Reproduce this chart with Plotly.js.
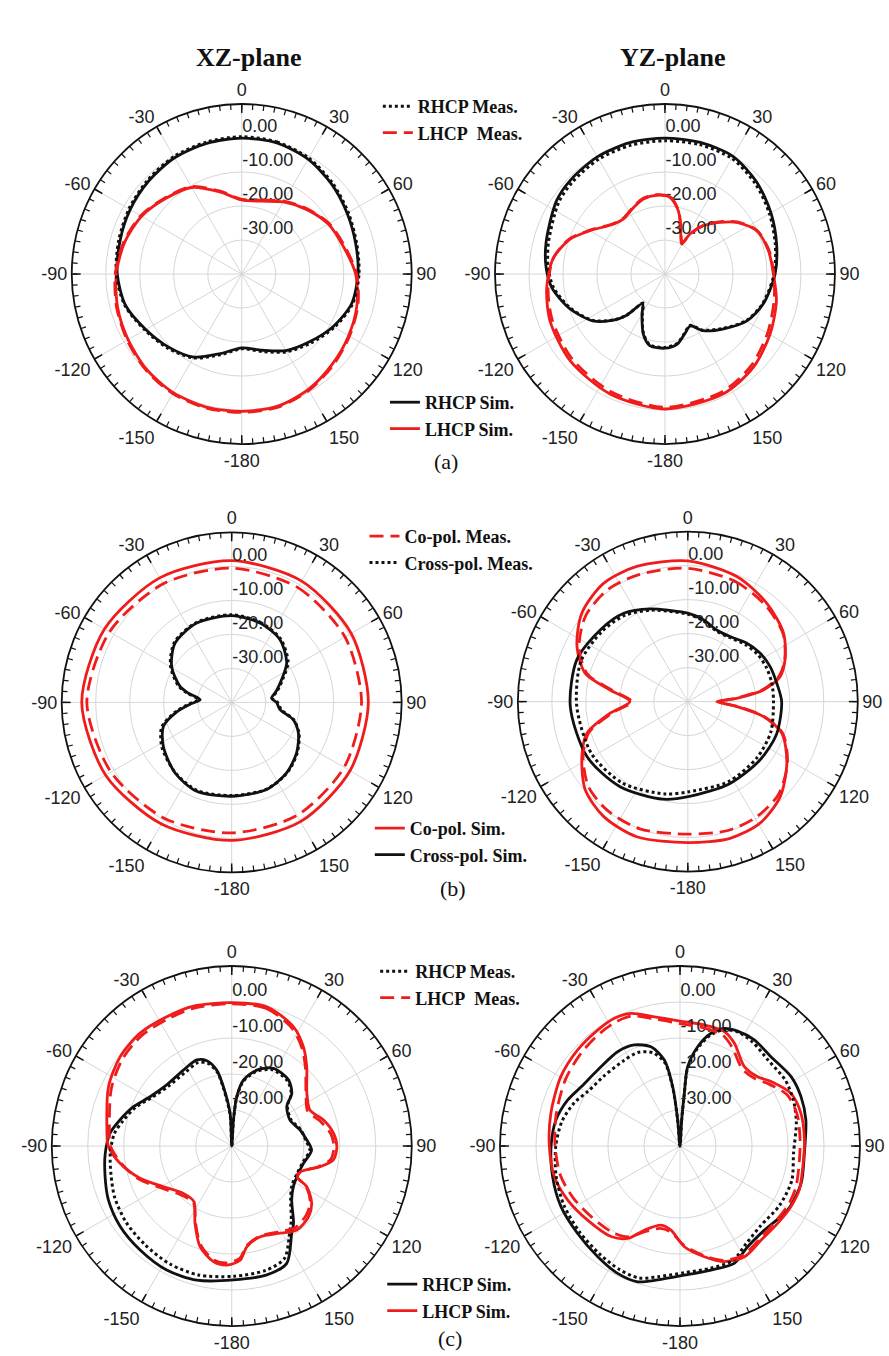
<!DOCTYPE html>
<html><head><meta charset="utf-8">
<script src="https://cdn.plot.ly/plotly-3.0.1.min.js"></script>
<style>html,body{margin:0;padding:0;background:#fff;}#chart{width:889px;height:1356px;}</style>
</head><body><div id="chart"></div>
<script>
const ANG_TICKS = [0,30,60,90,120,150,180,210,240,270,300,330];
const ANG_LABELS = ['0','30','60','90','120','150','-180','-150','-120','-90','-60','-30'];
const RAD_TICKS = [-30,-20,-10,0];
const RAD_LABELS = ['-30.00','-20.00','-10.00','0.00'];

const A_XZ_T = [0,15,30,45,60,75,90,105,120,135,150,165,180,-165,-150,-135,-120,-105,-90,-75,-60,-45,-30,-15,0];
const A_XZ_RHCP_SIM = [0,-0.1,-1,-2.6,-4.2,-5.3,-5.8,-6.5,-9,-11.8,-14,-16.8,-18.3,-15.8,-11.8,-9.6,-7.4,-4.6,-3.4,-2.9,-2.1,-1.3,-0.5,-0.2,0];
const A_XZ_RHCP_MEAS = [0.4,0.2,-0.6,-2.2,-3.8,-5,-5.5,-6.2,-8.6,-11.3,-13.6,-16.4,-18,-15.4,-11.5,-9.2,-7.1,-4.4,-3.1,-2.5,-1.7,-0.9,-0.1,0.2,0.4];
const A_XZ_LHCP_SIM = [-18.2,-17.8,-15.5,-13.1,-10.6,-9,-6.5,-4.9,-3.7,-2.4,-0.8,0.3,0.4,0.5,0.3,-0.4,-1.4,-2.2,-3.1,-4.3,-6,-8.5,-10.6,-15,-18.2];
const A_XZ_LHCP_MEAS = [-18,-17.5,-15.2,-12.8,-10.3,-8.6,-6.2,-4.6,-3.4,-2,-0.5,0.6,0.7,0.8,0.6,-0.1,-1.1,-1.9,-2.8,-4,-5.7,-8.2,-10.3,-14.7,-18];

const A_YZ_RHCP_T = [0,15,30,45,60,75,90,107,120,133,146,154,162,170,180,-168,-160,-150,-143,-137,-132,-123,-110,-97,-87,-75,-56,-45,-30,-15,0];
const A_YZ_RHCP_SIM = [0,0.1,0,-1.8,-4,-6,-7.6,-9.8,-12.3,-16.4,-19.9,-23,-21.4,-19.1,-18.2,-18.5,-21.3,-26.5,-29.1,-23.3,-19.7,-14.7,-10.2,-6.5,-5,-3.8,-1.5,-0.8,-0.2,0,0];
const A_YZ_RHCP_MEAS = [-0.8,-0.6,-0.7,-2.4,-4.5,-6.4,-7.9,-10,-12.5,-16.6,-20.1,-23.2,-21.6,-19.3,-18.4,-18.7,-21.5,-26.7,-29.3,-23.5,-19.9,-14.9,-10.5,-7,-5.6,-4.5,-2.3,-1.6,-1,-0.8,-0.8];
const A_YZ_LHCP_T = [-6,3.7,11.9,18.6,29,32,38.4,46.8,54.2,64.7,77.3,90,103.4,119.7,136.6,154,180,-155.4,-132.4,-112,-96.4,-82,-70,-60,-46,-37,-25,-16,-6];
const A_YZ_LHCP_SIM = [-16.7,-17.4,-21,-25.5,-29.9,-26.1,-21.9,-17.8,-14,-10.2,-8.8,-8.1,-6.3,-4.4,-2.2,-0.8,-0.3,-1.2,-2.2,-3.5,-5,-6.8,-10.2,-14.5,-18.9,-19.7,-18.3,-17,-16.7];
const A_YZ_LHCP_MEAS = [-16.5,-17.2,-20.8,-25.3,-29.5,-26,-21.7,-17.5,-13.8,-10,-8.6,-8,-7,-5.2,-3,-1.5,-0.8,-1.9,-3,-4.2,-5.4,-6.8,-10,-14.3,-18.7,-19.5,-18.1,-16.8,-16.5];

const B_XZ_CO_T = [0,30,60,90,120,150,180,-150,-120,-90,-60,-30,0];
const B_XZ_CO_SIM = [1.7,1.2,0.6,0.2,0.2,0.5,0.6,1.3,2.8,4.1,3.2,2.3,1.7];
const B_XZ_CO_MEAS = [-0.5,-1,-1.5,-1.8,-1.8,-1.6,-1.6,-0.6,1,2.6,1.5,0.3,-0.5];
const B_XZ_X_T = [0,19.7,37.6,54.4,65.6,76,84,90,98.6,105.7,114.7,127.9,142.1,158.2,180,-158.5,-141.3,-122.8,-109.4,-100,-92,-85,-78,-72.8,-59,-43.7,-23.8,0];
const B_XZ_X_SIM = [-14.5,-15.2,-16.7,-20.1,-23.9,-26.5,-28.2,-26.8,-25.6,-21.2,-18.4,-15.8,-13.7,-12.4,-12.4,-11.9,-13.4,-16.1,-18.7,-23.5,-28,-30.7,-27,-24.1,-19.4,-15.9,-14.5,-14.5];
const B_XZ_X_MEAS = [-14.2,-15,-16.4,-19.6,-23.5,-26.2,-28,-26.5,-25.2,-21,-18.2,-15.6,-13.6,-12.5,-12.6,-12.2,-13.5,-15.6,-18.2,-23,-27.5,-30.2,-26.5,-23.6,-19,-15.6,-14.3,-14.2];

const B_YZ_CO_T = [0,21.4,38.8,54.5,66.8,74.9,81.2,86.1,90,95.8,101.2,108.6,121.9,135.8,149.3,162.8,180,-159.3,-143.7,-130.7,-117.4,-107.4,-98.5,-90,-81.5,-74.6,-63.6,-50.2,-35.5,-20.7,0];
const B_YZ_CO_SIM = [1.4,-0.5,-2.9,-5.4,-8.9,-11.9,-17.5,-25.6,-31.5,-25.5,-17.3,-10.8,-5.7,-1,1.6,2.1,1.5,2.5,1.9,-0.2,-4.9,-8.9,-16.9,-23,-16.9,-8.7,-3.6,0.6,2.7,2.5,1.4];
const B_YZ_CO_MEAS = [-0.8,-2,-3.6,-5.6,-9,-12.4,-18,-26,-31,-25,-17,-10.5,-5.5,-1.8,-0.5,-0.3,-1,0,-0.2,-1.5,-5.3,-9.5,-17.5,-23.5,-17.5,-9.3,-4.3,-0.8,0.5,0,-0.8];
const B_YZ_X_T = [0,11,22,33,45,56,67,78,90,110,129,153,179,-166,-141.5,-118.6,-92.4,-69.4,-50.7,-36,-22,-11,0];
const B_YZ_X_SIM = [-14,-15.5,-17.3,-17.2,-15.6,-14.4,-13.7,-13.3,-12.4,-12.2,-12.7,-12.9,-12.1,-10.4,-8,-6.2,-5.4,-5.1,-6.7,-7.9,-10.6,-12.7,-14];
const B_YZ_X_MEAS = [-14.3,-15.8,-17.6,-17.5,-16.2,-15.2,-14.8,-14.7,-14.8,-14,-13.8,-13.6,-13.5,-12,-9.3,-7.8,-7.3,-6.4,-7.4,-8.6,-11,-13,-14.3];

const C_XZ_RHCP_T = [0,3.7,5.8,10,18.2,28.2,40.6,48.7,54.4,66,76.8,85.4,92.9,103.6,112.3,123.4,132,141.4,145.5,154.9,164.8,179.3,-165.4,-152.3,-138.6,-125.8,-113.6,-103.6,-93.3,-84,-76.9,-68.2,-58.9,-46.8,-32.5,-22.1,-16.3,-11.2,-8,-2.9,0];
const C_XZ_RHCP_SIM = [-40,-32.8,-26.2,-21.4,-17.8,-15.5,-15.8,-17.8,-21.2,-22.3,-20.5,-19.1,-17.8,-19.5,-20,-19.5,-17.6,-12.5,-10.6,-4,-2.9,-2.8,-1.5,-1.1,-1.5,-1.8,-2.6,-3.8,-4.8,-6,-8.1,-10.6,-13.5,-15.2,-15,-14.2,-15.3,-18.5,-23.4,-30.9,-40];
const C_XZ_RHCP_MEAS = [-40,-33,-26.5,-21.8,-18.2,-16,-16.2,-18,-21,-22,-20.3,-19.4,-18.3,-19.8,-20.3,-20,-18,-13.5,-11.5,-5.5,-4.2,-3.8,-3,-3,-3.5,-3.8,-4.5,-5.5,-6.2,-7.2,-9,-11.2,-14,-15.8,-15.8,-15,-16,-19,-24,-31.5,-40];
const C_XZ_LHCP_T = [0,14.1,27.3,35.8,43.4,54.9,65.3,74.2,82.9,90.4,97.8,103.2,110.6,115.3,118.5,125.6,132.7,142.3,151,162.6,171.5,175.8,-177.6,-171,-162.5,-154.6,-145.9,-134.4,-120.8,-109.4,-98.8,-90,-81.2,-64.3,-51.3,-39.1,-26.7,-15.3,0];
const C_XZ_LHCP_SIM = [-0.2,-0.1,-2.7,-6,-9.7,-14.5,-16.1,-13.5,-11.5,-10.8,-11.5,-14.8,-19.7,-20,-16.3,-12.7,-11,-10.5,-12.3,-13.6,-11.7,-8.2,-6.9,-7.5,-10.7,-16.2,-21.3,-21.2,-17.9,-13,-8.6,-5.7,-4.9,-2,-0.3,0.4,0.2,0.3,-0.2];
const C_XZ_LHCP_MEAS = [-0.5,-0.6,-3.3,-6.6,-10.2,-14.8,-16.8,-14.5,-12.3,-11.6,-12.3,-15.2,-19.6,-19.8,-16.5,-13.2,-11.8,-11.3,-12.8,-13.8,-12,-8.8,-7.5,-8,-11.2,-16.5,-21,-20.5,-17.2,-12.5,-8.9,-6.3,-5.6,-2.9,-1.2,-0.4,-0.5,-0.3,-0.5];

const C_YZ_RHCP_T = [0,3.7,4.7,5.5,10.1,15.4,20.6,26.6,35,45.5,58,67.8,78.3,93.4,107.1,120.7,134.9,146.1,155.2,166,178.1,-170.5,-162.7,-153.9,-143.4,-130.5,-117,-103.5,-90,-78.2,-67.7,-59.1,-47.3,-33.5,-24.3,-16.3,-10.3,-7,-5.1,0];
const C_YZ_RHCP_SIM = [-40,-32.8,-25.3,-17.9,-12,-7.5,-5.1,-4.3,-4,-4.6,-3.6,-3.7,-4.3,-5.4,-4.8,-5.2,-6.9,-6.3,-4.1,-4.5,-4.1,-2.3,-0.5,-0.6,-1.7,-2.6,-2.9,-3.6,-4.2,-4.8,-6.3,-8,-8.9,-8.6,-9.2,-11.3,-15.7,-23.4,-32.7,-40];
const C_YZ_RHCP_MEAS = [-40,-33,-25.8,-18.5,-12.5,-8,-5.5,-4.5,-4.8,-5.8,-5.5,-6,-7,-8.4,-7.5,-7.8,-8.5,-7.2,-5,-5,-4.8,-3.2,-1.6,-1.8,-2.6,-3.3,-3.8,-4.6,-5.5,-6.5,-8.3,-10.3,-11.3,-11.6,-11.5,-13,-16.5,-24,-33,-40];
const C_YZ_LHCP_T = [0,11.4,21.2,27.9,39,48.2,54.7,64.6,74.9,87.2,99.6,110.2,118.7,128.4,139.2,149.8,159,167.6,177.5,-173.9,-166.5,-157,-150.5,-142.7,-128.7,-115.7,-103.7,-90,-75.8,-59.8,-46.8,-35.4,-27.2,-20.3,-11.2,0];
const C_YZ_LHCP_SIM = [-5.3,-5.7,-5.9,-7.7,-11.6,-11.1,-9,-5.9,-5.2,-5.4,-5.4,-4.7,-4.9,-5.4,-5.5,-4.4,-5.6,-8.5,-12,-16.5,-17.4,-14.6,-10.5,-8.4,-7.1,-5.4,-4.1,-3.7,-3,-1.7,-1,-0.5,-0.1,-0.7,-3.4,-5.3];
const C_YZ_LHCP_MEAS = [-6,-6.5,-7,-9,-12.5,-12,-10,-7,-6.3,-6.6,-6.5,-5.8,-5.8,-6.2,-6,-5,-6,-8.8,-12.3,-16,-16.5,-14,-11,-9.6,-8.5,-7,-5.8,-5.3,-4.5,-3.2,-2.3,-1.6,-1.2,-1.5,-4,-6];

const RED = '#f01c1c';
const BLACK = '#111111';
const SERIF = 'Liberation Serif, Times New Roman, serif';
const SANS = 'Liberation Sans, Arial, sans-serif';
const simLine = c => ({color: c, width: 2.8, shape: 'spline', smoothing: 0.8});
const dotLine = c => ({color: c, width: 3, dash: 'dot', shape: 'spline', smoothing: 0.8});
const dashLine = c => ({color: c, width: 2.8, dash: '14px,7px', shape: 'spline', smoothing: 0.8});

function tr(theta, r, name, line, sub, legend, show) {
  return {type: 'scatterpolar', mode: 'lines', theta: theta, r: r, name: name, line: line,
          subplot: sub, legend: legend, showlegend: show, hoverinfo: 'skip'};
}

const data = [
  tr(A_XZ_T, A_XZ_RHCP_SIM, 'RHCP Sim.', simLine(BLACK), 'polar', 'legend2', true),
  tr(A_XZ_T, A_XZ_LHCP_SIM, 'LHCP Sim.', simLine(RED), 'polar', 'legend2', true),
  tr(A_XZ_T, A_XZ_RHCP_MEAS, 'RHCP Meas.', dotLine(BLACK), 'polar7', 'legend', true),
  tr(A_XZ_T, A_XZ_LHCP_MEAS, 'LHCP\u00a0 Meas.', dashLine(RED), 'polar7', 'legend', true),
  tr(A_YZ_RHCP_T, A_YZ_RHCP_SIM, 'RHCP Sim.', simLine(BLACK), 'polar2', 'legend2', false),
  tr(A_YZ_LHCP_T, A_YZ_LHCP_SIM, 'LHCP Sim.', simLine(RED), 'polar2', 'legend2', false),
  tr(A_YZ_RHCP_T, A_YZ_RHCP_MEAS, 'RHCP Meas.', dotLine(BLACK), 'polar8', 'legend', false),
  tr(A_YZ_LHCP_T, A_YZ_LHCP_MEAS, 'LHCP Meas.', dashLine(RED), 'polar8', 'legend', false),
  tr(B_XZ_CO_T, B_XZ_CO_SIM, 'Co-pol. Sim.', simLine(RED), 'polar3', 'legend4', true),
  tr(B_XZ_X_T, B_XZ_X_SIM, 'Cross-pol. Sim.', simLine(BLACK), 'polar3', 'legend4', true),
  tr(B_XZ_CO_T, B_XZ_CO_MEAS, 'Co-pol. Meas.', dashLine(RED), 'polar9', 'legend3', true),
  tr(B_XZ_X_T, B_XZ_X_MEAS, 'Cross-pol. Meas.', dotLine(BLACK), 'polar9', 'legend3', true),
  tr(B_YZ_CO_T, B_YZ_CO_SIM, 'Co-pol. Sim.', simLine(RED), 'polar4', 'legend4', false),
  tr(B_YZ_X_T, B_YZ_X_SIM, 'Cross-pol. Sim.', simLine(BLACK), 'polar4', 'legend4', false),
  tr(B_YZ_CO_T, B_YZ_CO_MEAS, 'Co-pol. Meas.', dashLine(RED), 'polar10', 'legend3', false),
  tr(B_YZ_X_T, B_YZ_X_MEAS, 'Cross-pol. Meas.', dotLine(BLACK), 'polar10', 'legend3', false),
  tr(C_XZ_RHCP_T, C_XZ_RHCP_SIM, 'RHCP Sim.', simLine(BLACK), 'polar5', 'legend6', true),
  tr(C_XZ_LHCP_T, C_XZ_LHCP_SIM, 'LHCP Sim.', simLine(RED), 'polar5', 'legend6', true),
  tr(C_XZ_RHCP_T, C_XZ_RHCP_MEAS, 'RHCP Meas.', dotLine(BLACK), 'polar11', 'legend5', true),
  tr(C_XZ_LHCP_T, C_XZ_LHCP_MEAS, 'LHCP\u00a0 Meas.', dashLine(RED), 'polar11', 'legend5', true),
  tr(C_YZ_RHCP_T, C_YZ_RHCP_SIM, 'RHCP Sim.', simLine(BLACK), 'polar6', 'legend6', false),
  tr(C_YZ_LHCP_T, C_YZ_LHCP_SIM, 'LHCP Sim.', simLine(RED), 'polar6', 'legend6', false),
  tr(C_YZ_RHCP_T, C_YZ_RHCP_MEAS, 'RHCP Meas.', dotLine(BLACK), 'polar12', 'legend5', false),
  tr(C_YZ_LHCP_T, C_YZ_LHCP_MEAS, 'LHCP Meas.', dashLine(RED), 'polar12', 'legend5', false)
];

const MINOR = [];
for (let a = 0; a < 360; a += 3.75) MINOR.push(a);

function basePolar(dx, dy) {
  return {
    domain: {x: dx, y: dy}, bgcolor: 'rgba(0,0,0,0)',
    angularaxis: {rotation: 90, direction: 'clockwise', tickmode: 'array', tickvals: ANG_TICKS, ticktext: ANG_LABELS,
      ticks: 'inside', ticklen: 8, tickwidth: 1.5, tickcolor: '#111', showline: true, linecolor: '#111', linewidth: 1.8,
      showgrid: true, gridcolor: '#d6d6d6', gridwidth: 1, tickfont: {family: SANS, size: 18, color: '#222'}},
    radialaxis: {range: [-40, 10], angle: 90, tickangle: 90, tickmode: 'array', tickvals: RAD_TICKS,
      ticktext: RAD_LABELS.map(s => s + '<br>\u00a0'),
      showline: false, ticks: '', showgrid: true, gridcolor: '#d6d6d6', gridwidth: 1,
      tickfont: {family: SANS, size: 18, color: '#222'}}
  };
}
function overPolar(dx, dy) {
  return {
    domain: {x: dx, y: dy}, bgcolor: 'rgba(0,0,0,0)',
    angularaxis: {rotation: 90, direction: 'clockwise', tickmode: 'array', tickvals: MINOR,
      ticks: 'inside', ticklen: 5, tickwidth: 1.2, tickcolor: '#111', showticklabels: false, showline: false, showgrid: false},
    radialaxis: {range: [-40, 10], visible: false}
  };
}
const D = {
  aL: [[0.0807, 0.4631], [0.6725, 0.9233]],
  aR: [[0.5568, 0.9392], [0.6725, 0.9233]],
  bL: [[0.0694, 0.4518], [0.3566, 0.6074]],
  bR: [[0.5825, 0.9649], [0.3572, 0.6080]],
  cL: [[0.0582, 0.4632], [0.0221, 0.2876]],
  cR: [[0.5624, 0.9674], [0.0221, 0.2876]]
};
const legFont = {family: SERIF, size: 18, color: '#111', weight: 'bold'};
function leg(x, yTopPx) {
  return {x: x, y: 1 - yTopPx / 1356, xanchor: 'left', yanchor: 'top', bgcolor: 'rgba(0,0,0,0)',
          font: legFont, itemclick: false, itemdoubleclick: false, tracegroupgap: 0};
}
const ann = (text, x, yPx, size, bold) => ({text: text, x: x, y: 1 - yPx / 1356, xref: 'paper', yref: 'paper',
  xanchor: 'center', yanchor: 'middle', showarrow: false,
  font: {family: SERIF, size: size, color: '#111', weight: bold ? 'bold' : 'normal'}});

const layout = {
  width: 889, height: 1356, margin: {l: 0, r: 0, t: 0, b: 0},
  paper_bgcolor: '#fff', plot_bgcolor: '#fff', dragmode: false,
  polar: basePolar(...D.aL), polar2: basePolar(...D.aR), polar3: basePolar(...D.bL),
  polar4: basePolar(...D.bR), polar5: basePolar(...D.cL), polar6: basePolar(...D.cR),
  polar7: overPolar(...D.aL), polar8: overPolar(...D.aR), polar9: overPolar(...D.bL),
  polar10: overPolar(...D.bR), polar11: overPolar(...D.cL), polar12: overPolar(...D.cR),
  legend: leg(0.425, 88), legend2: leg(0.433, 384),
  legend3: leg(0.41, 518), legend4: leg(0.416, 810),
  legend5: leg(0.422, 953), legend6: leg(0.43, 1266),
  annotations: [
    ann('XZ-plane', 0.279, 57, 26, true), ann('YZ-plane', 0.756, 57, 26, true),
    ann('(a)', 0.502, 461, 22, false), ann('(b)', 0.51, 888, 22, false), ann('(c)', 0.506, 1338, 22, false)
  ]
};
Plotly.newPlot('chart', data, layout, {staticPlot: true, displayModeBar: false});
</script></body></html>
